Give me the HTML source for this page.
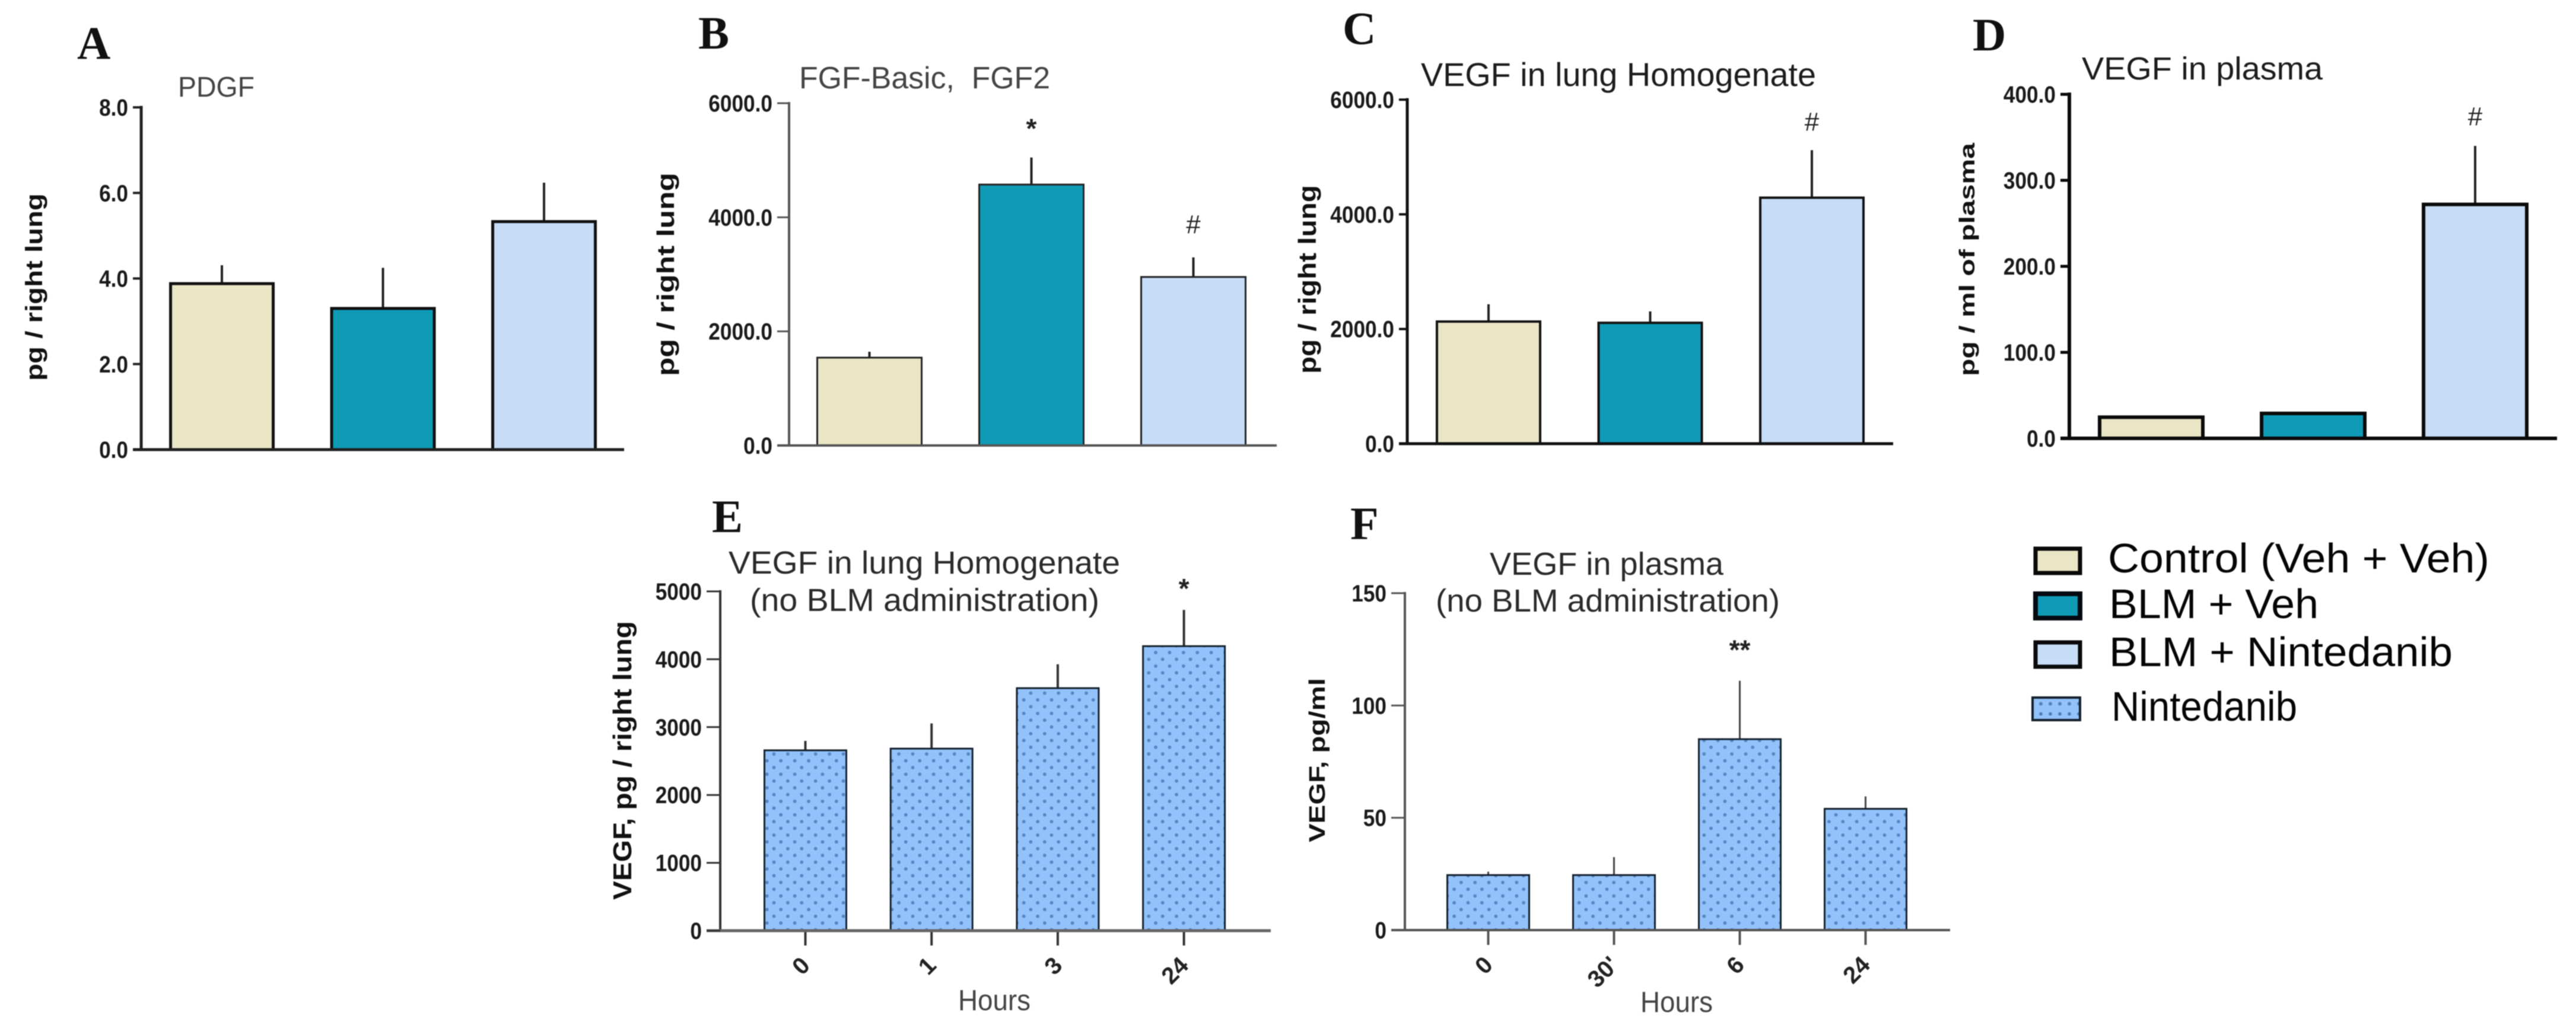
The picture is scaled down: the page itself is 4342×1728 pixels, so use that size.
<!DOCTYPE html>
<html lang="en">
<head>
<meta charset="utf-8">
<title>Growth factor bar chart panels</title>
<style>
html,body{margin:0;padding:0;background:#fff;width:4342px;height:1728px;overflow:hidden}
svg{display:block;filter:blur(0.9px)}
text{font-family:"Liberation Sans",Arial,sans-serif}
.panel-letter{font-family:"Liberation Serif","Times New Roman",serif;font-weight:700;font-size:78px;fill:#111}
.legend-text{font-size:70px;fill:#050505}
</style>
</head>
<body>
<svg id="figure" xmlns="http://www.w3.org/2000/svg" width="4342" height="1728" viewBox="0 0 4342 1728">
  <defs>
    <pattern id="dots" patternUnits="userSpaceOnUse" width="23.4" height="22.8">
      <rect width="23.4" height="22.8" fill="#93c2fa"/>
      <circle cx="5.8" cy="5.7" r="2.9" fill="#5485c4"/>
      <circle cx="17.5" cy="17.1" r="2.9" fill="#5485c4"/>
    </pattern>
    <pattern id="swatch-dots" patternUnits="userSpaceOnUse" width="16" height="17" x="3432" y="1178">
      <rect width="16" height="17" fill="#93c2fa"/>
      <circle cx="8" cy="8.5" r="3" fill="#4f7fb8"/>
    </pattern>
  </defs>
  <rect width="4342" height="1728" fill="#fff"/>

  <g id="panels"></g>

  <g>
    <text class="panel-letter" x="130" y="99">A</text>
    <text class="panel-letter" x="1177" y="82">B</text>
    <text class="panel-letter" x="2263" y="74">C</text>
    <text class="panel-letter" x="3325" y="85">D</text>
    <text class="panel-letter" x="1200" y="897">E</text>
    <text class="panel-letter" x="2276" y="909">F</text>
  </g>

  <g>
    <g>
      <rect x="3431" y="925" width="75" height="41" fill="#e9e5c5" stroke="#0a0a0a" stroke-width="7"/>
      <text class="legend-text" x="3553" y="965" textLength="643" lengthAdjust="spacingAndGlyphs">Control (Veh + Veh)</text>
    </g>
    <g>
      <rect x="3431" y="1001" width="75" height="41" fill="#0f9ab6" stroke="#050a10" stroke-width="8"/>
      <text class="legend-text" x="3555" y="1042" textLength="353" lengthAdjust="spacingAndGlyphs">BLM + Veh</text>
    </g>
    <g>
      <rect x="3431" y="1083" width="75" height="41" fill="#c6dcf7" stroke="#0a0a0a" stroke-width="7"/>
      <text class="legend-text" x="3555" y="1123" textLength="579" lengthAdjust="spacingAndGlyphs">BLM + Nintedanib</text>
    </g>
    <g>
      <rect x="3426" y="1176" width="80" height="38" fill="url(#swatch-dots)" stroke="#14202c" stroke-width="4"/>
      <text class="legend-text" x="3559" y="1215" textLength="313" lengthAdjust="spacingAndGlyphs">Nintedanib</text>
    </g>
  </g>
</svg>

<script>
// ---------- chart values ----------
const groupCategories = ['control', 'blm-veh', 'blm-nintedanib'];

const panelATicks = ['0.0', '2.0', '4.0', '6.0', '8.0'];
const panelAMeans = [3.88, 3.3, 5.33];
const panelAErrorTops = [4.31, 4.25, 6.24];
const panelAMarks = ['', '', ''];

const panelBTicks = ['0.0', '2000.0', '4000.0', '6000.0'];
const panelBMeans = [1540, 4574, 2954];
const panelBErrorTops = [1643, 5048, 3297];
const panelBMarks = ['', '*', '#'];

const panelCTicks = ['0.0', '2000.0', '4000.0', '6000.0'];
const panelCMeans = [2130, 2108, 4290];
const panelCErrorTops = [2432, 2307, 5119];
const panelCMarks = ['', '', '#'];

const panelDTicks = ['0.0', '100.0', '200.0', '300.0', '400.0'];
const panelDMeans = [24.6, 29, 272];
const panelDErrorTops = [24.6, 30.5, 340];
const panelDMarks = ['', '', '#'];

const panelECategories = ['0', '1', '3', '24'];
const panelETicks = ['0', '1000', '2000', '3000', '4000', '5000'];
const panelEMeans = [2658, 2683, 3574, 4193];
const panelEErrorTops = [2797, 3054, 3926, 4727];
const panelEMarks = ['', '', '', '*'];

const panelFCategories = ['0', "30'", '6', '24'];
const panelFTicks = ['0', '50', '100', '150'];
const panelFMeans = [24.5, 24.5, 85, 54];
const panelFErrorTops = [26, 32.5, 111, 59.5];
const panelFMarks = ['', '', '**', ''];

// ---------- panel geometry ----------
const SVG_NS = 'http://www.w3.org/2000/svg';
const groupFills = ['#e9e5c5', '#0f9ab6', '#c6dcf7'];
const root = document.getElementById('panels');

function make(tag, attrs, parent) {
  const node = document.createElementNS(SVG_NS, tag);
  for (const key in attrs) node.setAttribute(key, attrs[key]);
  parent.appendChild(node);
  return node;
}

function drawPanel(cfg) {
  const group = make('g', {}, root);
  
  

  const axisMax = parseFloat(cfg.ticks[cfg.ticks.length - 1]);
  const yScale = function (v) { return cfg.baseY - (v / axisMax) * (cfg.baseY - cfg.topY); };
  const xScale = function (i) { return cfg.firstBar + i * cfg.step; };

  // bars first so axes sit on top
  cfg.means.forEach(function (mean, i) {
    const left = xScale(i);
    const centre = left + cfg.barWidth / 2;
    const label = cfg.categories[i];

    const err = make('line', {
      x1: centre, x2: centre, y1: yScale(mean), y2: yScale(cfg.errorTops[i]),
      stroke: cfg.errColor, 'stroke-width': cfg.errWidth
    }, group);
    
    

    const bar = make('rect', {
      x: left + cfg.barStroke / 2,
      y: yScale(mean),
      width: cfg.barWidth - cfg.barStroke,
      height: cfg.baseY - yScale(mean),
      fill: cfg.dotted ? 'url(#dots)' : groupFills[i],
      stroke: cfg.barColor,
      'stroke-width': cfg.barStroke
    }, group);
    
    

    if (cfg.marks[i]) {
      const isHash = cfg.marks[i] === '#';
      const markY = yScale(cfg.errorTops[i]) - cfg.markGap;
      const mark = make('text', {
        x: centre, y: markY + (isHash ? 16 : 24),
        'text-anchor': 'middle',
        fill: '#222',
        'font-size': isHash ? 44 : 46,
        'font-weight': isHash ? 400 : 700
      }, group);
      mark.textContent = cfg.marks[i];
      
      
    }

    if (cfg.rotatedLabels) {
      const tick = make('line', {
        x1: centre, x2: centre, y1: cfg.baseY, y2: cfg.baseY + 25,
        stroke: cfg.axisColor, 'stroke-width': 4
      }, group);
      
      

      const ax = centre + 10;
      const ay = cfg.baseY + 61;
      const tx = make('text', {
        x: ax, y: ay,
        transform: 'rotate(-45 ' + ax + ' ' + ay + ')',
        'text-anchor': 'end',
        'font-size': 40, 'font-weight': 700, fill: '#222'
      }, group);
      tx.textContent = label;
      
      
    }
  });

  // y axis
  const yAxis = make('line', {
    x1: cfg.axisX, x2: cfg.axisX, y1: cfg.topY - cfg.axisWidth / 2, y2: cfg.baseY,
    stroke: cfg.axisColor, 'stroke-width': cfg.axisWidth
  }, group);
  
  

  // x axis
  const xAxis = make('line', {
    x1: cfg.tickLeft, x2: cfg.axisEnd, y1: cfg.baseY, y2: cfg.baseY,
    stroke: cfg.baseColor || cfg.axisColor, 'stroke-width': cfg.baseWidth || cfg.axisWidth
  }, group);
  
  

  // y ticks & labels
  cfg.ticks.forEach(function (t) {
    const y = yScale(parseFloat(t));
    const tick = make('line', {
      x1: cfg.tickLeft, x2: cfg.axisX, y1: y, y2: y,
      stroke: cfg.axisColor, 'stroke-width': cfg.axisWidth - 1
    }, group);
    
    

    const label = make('text', {
      x: cfg.tickLeft - 8, y: y + 14,
      'text-anchor': 'end',
      'font-size': 40, 'font-weight': 700, fill: '#1a1a1a'
    }, group);
    label.textContent = t;
    
    
    // reference digits are tall and condensed
    label.setAttribute('textLength', (label.getComputedTextLength() * 0.88).toFixed(1));
    label.setAttribute('lengthAdjust', 'spacingAndGlyphs');
  });

  // chart title (one or two lines)
  cfg.titles.forEach(function (line, i) {
    const title = make('text', {
      x: line.x, y: line.y,
      'font-size': cfg.titleSize, fill: cfg.titleColor,
      textLength: line.w, lengthAdjust: 'spacingAndGlyphs'
    }, group);
    title.textContent = line.text;
    
    
  });

  // y title
  const yTitle = make('text', {
    x: cfg.yTitle.x, y: cfg.yTitle.y,
    transform: 'rotate(-90 ' + cfg.yTitle.x + ' ' + cfg.yTitle.y + ')',
    'font-size': cfg.yTitle.size, 'font-weight': 700, fill: '#111',
    textLength: cfg.yTitle.len, lengthAdjust: 'spacingAndGlyphs'
  }, group);
  yTitle.textContent = cfg.yTitle.text;
  
  

  // x title
  if (cfg.xTitle) {
    const xTitle = make('text', {
      x: cfg.xTitle.x, y: cfg.xTitle.y,
      'text-anchor': 'middle',
      'font-size': 49, fill: '#444',
      textLength: 122, lengthAdjust: 'spacingAndGlyphs'
    }, group);
    xTitle.textContent = 'Hours';
    
    
  }
}

drawPanel({
  id: 'a', categories: groupCategories, ticks: panelATicks, means: panelAMeans, errorTops: panelAErrorTops, marks: panelAMarks,
  axisX: 238, tickLeft: 224, axisEnd: 1052, baseY: 758, topY: 181,
  firstBar: 285, step: 271.5, barWidth: 178, barStroke: 5, barColor: '#111',
  axisColor: '#222', axisWidth: 5, errColor: '#222', errWidth: 4, markGap: 50,
  titleSize: 48, titleColor: '#444',
  titles: [{ text: 'PDGF', x: 300, y: 163, w: 129 }],
  yTitle: { text: 'pg / right lung', x: 71, y: 642, size: 40, len: 316 }
});

drawPanel({
  id: 'b', categories: groupCategories, ticks: panelBTicks, means: panelBMeans, errorTops: panelBErrorTops, marks: panelBMarks,
  axisX: 1330, tickLeft: 1310, axisEnd: 2152, baseY: 751, topY: 174,
  firstBar: 1376, step: 273, barWidth: 179, barStroke: 3, barColor: '#222',
  axisColor: '#555', axisWidth: 4, errColor: '#222', errWidth: 4, markGap: 57,
  titleSize: 52, titleColor: '#444',
  titles: [{ text: 'FGF-Basic,\u00a0 FGF2', x: 1347, y: 149, w: 423 }],
  yTitle: { text: 'pg / right lung', x: 1136, y: 634, size: 41, len: 343 }
});

drawPanel({
  id: 'c', categories: groupCategories, ticks: panelCTicks, means: panelCMeans, errorTops: panelCErrorTops, marks: panelCMarks,
  axisX: 2372, tickLeft: 2358, axisEnd: 3191, baseY: 748, topY: 168,
  firstBar: 2420, step: 272.5, barWidth: 178, barStroke: 4, barColor: '#111',
  axisColor: '#111', axisWidth: 5, errColor: '#222', errWidth: 4, markGap: 49,
  titleSize: 56, titleColor: '#1c1c1c',
  titles: [{ text: 'VEGF in lung Homogenate', x: 2395, y: 145, w: 666 }],
  yTitle: { text: 'pg / right lung', x: 2218, y: 630, size: 42, len: 318 }
});

drawPanel({
  id: 'd', categories: groupCategories, ticks: panelDTicks, means: panelDMeans, errorTops: panelDErrorTops, marks: panelDMarks,
  axisX: 3488, tickLeft: 3473, axisEnd: 4310, baseY: 739, topY: 159,
  firstBar: 3536, step: 273, barWidth: 180, barStroke: 6, barColor: '#0a0a0a',
  axisColor: '#0a0a0a', axisWidth: 6, errColor: '#222', errWidth: 4, markGap: 51,
  titleSize: 54, titleColor: '#1c1c1c',
  titles: [{ text: 'VEGF in plasma', x: 3509, y: 134, w: 406 }],
  yTitle: { text: 'pg / ml of plasma', x: 3328, y: 634, size: 36, len: 393 }
});

drawPanel({
  id: 'e', categories: panelECategories, ticks: panelETicks, means: panelEMeans, errorTops: panelEErrorTops, marks: panelEMarks,
  axisX: 1214, tickLeft: 1191, axisEnd: 2142, baseY: 1569, topY: 997,
  firstBar: 1287, step: 212.7, barWidth: 141, barStroke: 3, barColor: '#14202c', dotted: true, rotatedLabels: true,
  axisColor: '#333', axisWidth: 4, baseColor: '#666', baseWidth: 5, errColor: '#333', errWidth: 4, markGap: 44,
  titleSize: 54, titleColor: '#2a2a2a',
  titles: [
    { text: 'VEGF in lung Homogenate', x: 1228, y: 967, w: 660 },
    { text: '(no BLM administration)', x: 1264, y: 1030, w: 589 }
  ],
  yTitle: { text: 'VEGF, pg / right lung', x: 1064, y: 1517, size: 44, len: 470 },
  xTitle: { x: 1676, y: 1703 }
});

drawPanel({
  id: 'f', categories: panelFCategories, ticks: panelFTicks, means: panelFMeans, errorTops: panelFErrorTops, marks: panelFMarks,
  axisX: 2368, tickLeft: 2345, axisEnd: 3287, baseY: 1568, topY: 1000,
  firstBar: 2438, step: 212, barWidth: 141, barStroke: 3, barColor: '#14202c', dotted: true, rotatedLabels: true,
  axisColor: '#555', axisWidth: 4, baseColor: '#555', baseWidth: 4, errColor: '#444', errWidth: 3, markGap: 60,
  titleSize: 54, titleColor: '#2a2a2a',
  titles: [
    { text: 'VEGF in plasma', x: 2511, y: 969, w: 394 },
    { text: '(no BLM administration)', x: 2420, y: 1031, w: 580 }
  ],
  yTitle: { text: 'VEGF, pg/ml', x: 2233, y: 1420, size: 38, len: 277 },
  xTitle: { x: 2826, y: 1706 }
});
</script>
</body>
</html>
